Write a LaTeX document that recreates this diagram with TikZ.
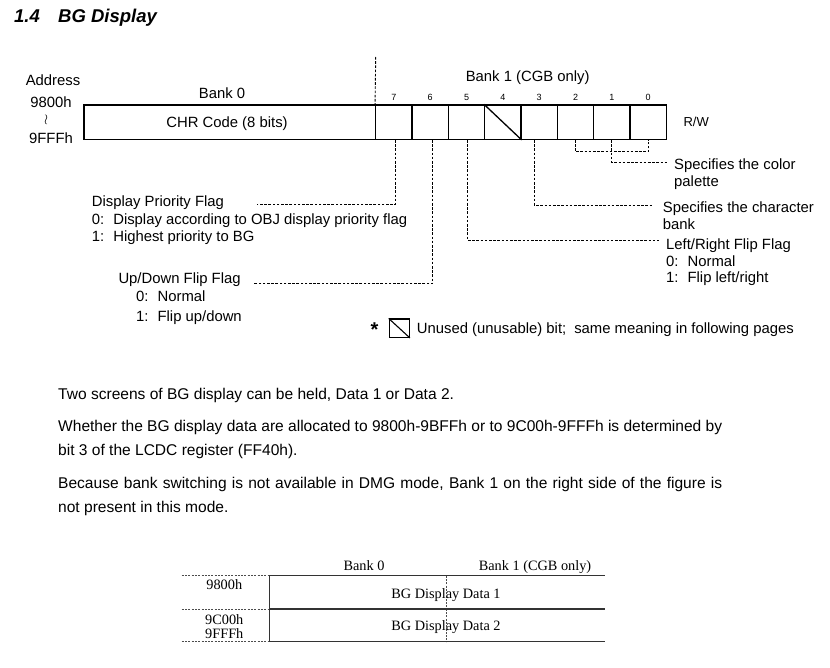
\documentclass[tikz,border=0pt]{standalone}
\usepackage{fontspec}
\setmainfont{Liberation Sans}
\newfontfamily\serifface{Liberation Serif}
\usetikzlibrary{calc}
\begin{document}
\begin{tikzpicture}[x=1pt,y=-1pt,
  lbl/.style={inner sep=0pt, font=\fontsize{14.85}{17}\selectfont, text height=10.6pt, text depth=0pt},
  small/.style={inner sep=0pt, font=\fontsize{9}{10}\selectfont, text height=6.4pt, text depth=0pt},
  para/.style={inner sep=0pt, anchor=west, font=\fontsize{15.55}{18}\selectfont, text height=11.1pt, text depth=0pt},
  tbl/.style={inner sep=0pt, font=\serifface\fontsize{14.3}{16}\selectfont, text height=9.5pt, text depth=0pt},
  cell/.style={draw, line width=1.3pt, inner sep=0pt, minimum width=36.33pt, minimum height=34.3pt},
  dl/.style={line width=0.9pt, dash pattern=on 2.6pt off 1.6pt},
  rule/.style={line width=1.5pt, black!80},
  tdash/.style={line width=0.9pt, black!70, dash pattern=on 2pt off 1.3pt}
]
\useasboundingbox (0,0) rectangle (830,668);
\fill[white] (0,0) rectangle (830,668);

% title
\node[anchor=west, inner sep=0pt, font=\fontsize{18.5}{21}\selectfont\bfseries\itshape, text height=13.2pt, text depth=0pt] (tnum) at (14,16) {1.4};
\node[anchor=west, inner sep=0pt, font=\fontsize{18.5}{21}\selectfont\bfseries\itshape, text height=13.2pt, text depth=0pt] (ttxt) at (58,16) {BG Display};

% address column
\node[lbl] (addr) at (53,80) {Address};
\node[lbl] (a1) at (51,102.3) {9800h};
\node[inner sep=0pt, font=\fontsize{14}{16}\selectfont] (a2) at (46,120.3) {$\wr$};
\node[lbl] (a3) at (51,138.3) {9FFFh};

% register box
\node[cell, minimum width=291.7pt] (chr) at (229.85,122.15) {};
\node[lbl] (chrt) at (227,122.7) {CHR Code (8 bits)};
\node[lbl] (bank0) at (222,93.3) {Bank 0};
\node[lbl] (bank1) at (527.7,76.7) {Bank 1 (CGB only)};
\foreach \b [count=\i from 0] in {7,6,5,4,3,2,1,0}{
  \node[cell] (b\b) at ({393.87+36.33*\i},122.15) {};
  \node[small] (n\b) at ({393.87+36.33*\i},97.7) {\b};
}
\draw[line width=1.3pt] (b4.north west) -- (b4.south east);
\node[inner sep=0pt, anchor=west, font=\fontsize{13}{15}\selectfont, text height=9.3pt, text depth=0pt] (rw) at (683.3,121.7) {R/W};

% bank divider
\coordinate (divtop) at (375.7,57);
\draw[dl] (divtop) -- (b7.north west);

% connectors
\coordinate (e7) at (256.7,204.3);
\draw[dl] ([xshift=1.8pt]b7.south) |- (e7);
\coordinate (e6) at (254,283.5);
\draw[dl] ([xshift=2.5pt]b6.south) |- (e6);
\coordinate (e5) at (658.5,240);
\draw[dl] ([xshift=0.8pt]b5.south) |- (e5);
\coordinate (e3) at (653.3,205);
\draw[dl] ([xshift=-5.2pt]b3.south) |- (e3);
\draw[dl] (b2.south) -- ++(0,12) -| (b0.south);
\coordinate (e1) at (666.7,162.7);
\draw[dl] (b1.south) |- (e1);

% right descriptions
\node[lbl, anchor=west] (sc1) at (674,164.3) {Specifies the color};
\node[lbl, anchor=west] (sc2) at (674,181) {palette};
\node[lbl, anchor=west] (sb1) at (662.7,207.7) {Specifies the character};
\node[lbl, anchor=west] (sb2) at (662.7,224.3) {bank};
\node[lbl, anchor=west] (lr1) at (666,244.3) {Left/Right Flip Flag};
\node[lbl, anchor=west] (lr2) at (666,261) {0:\hspace{9pt}Normal};
\node[lbl, anchor=west] (lr3) at (666,277.7) {1:\hspace{9pt}Flip left/right};

% left descriptions
\node[lbl, anchor=west] (dp1) at (91.7,201.7) {Display Priority Flag};
\node[lbl, anchor=west] (dp2) at (91.7,219.3) {0:\hspace{9pt}Display according to OBJ display priority flag};
\node[lbl, anchor=west] (dp3) at (91.7,236) {1:\hspace{9pt}Highest priority to BG};
\node[lbl, anchor=west] (ud1) at (118.3,278.3) {Up/Down Flip Flag};
\node[lbl, anchor=west] (ud2) at (136,296) {0:\hspace{9pt}Normal};
\node[lbl, anchor=west] (ud3) at (136,316) {1:\hspace{9pt}Flip up/down};

% legend
\node[inner sep=0pt, anchor=base, font=\fontsize{20}{24}\selectfont\bfseries] (star) at (374.5,336.5) {*};
\node[draw, line width=1.3pt, inner sep=0pt, minimum width=20pt, minimum height=18.3pt] (ubox) at (399.3,328.2) {};
\draw[line width=1.1pt] (ubox.north west) -- (ubox.south east);
\node[lbl, anchor=west] (legt) at (416.7,328.3) {Unused (unusable) bit;\hspace{8pt}same meaning in following pages};

% paragraphs
\node[para] (p1) at (58,393.5) {Two screens of BG display can be held, Data 1 or Data 2.};
\node[para] (p2) at (58,425.5) {\makebox[664pt][s]{Whether the BG display data are allocated to 9800h-9BFFh or to 9C00h-9FFFh is determined by}};
\node[para] (p3) at (58,449.5) {bit 3 of the LCDC register (FF40h).};
\node[para] (p4) at (58,483) {\makebox[664pt][s]{Because bank switching is not available in DMG mode, Bank 1 on the right side of the figure is}};
\node[para] (p5) at (58,506.5) {not present in this mode.};

% bottom table
\coordinate (tl) at (181.7,575.7);
\coordinate (tc) at (269.3,575.7);
\coordinate (tr) at (605,575.7);
\coordinate (ml) at (181.7,609);
\coordinate (mc) at (269.3,609);
\coordinate (mr) at (605,609);
\coordinate (bl) at (181.7,641.7);
\coordinate (bc) at (269.3,641.7);
\coordinate (br) at (605,641.7);
\coordinate (dtop) at (446.7,575.7);
\coordinate (dbot) at (446.7,641.7);
\draw[tdash] (tl) -- (tc);
\draw[tdash] (ml) -- (mc);
\draw[tdash] (bl) -- (bc);
\draw[tdash] (dtop) -- (dbot);
\draw[rule] (tc) -- (tr);
\draw[rule] (mc) -- (mr);
\draw[rule] (bc) -- (br);
\draw[rule] (tc) -- (bc);
\node[tbl] (tb0) at (364,565.7) {Bank 0};
\node[tbl] (tb1) at (535,565.3) {Bank 1 (CGB only)};
\node[tbl] (t98) at (224.3,585) {9800h};
\node[tbl] (t9c) at (224.3,619.5) {9C00h};
\node[tbl] (t9f) at (224.3,633.3) {9FFFh};
\node[tbl] (td1) at (446,593.3) {BG Display Data 1};
\node[tbl] (td2) at (446,626) {BG Display Data 2};
\end{tikzpicture}
\end{document}
